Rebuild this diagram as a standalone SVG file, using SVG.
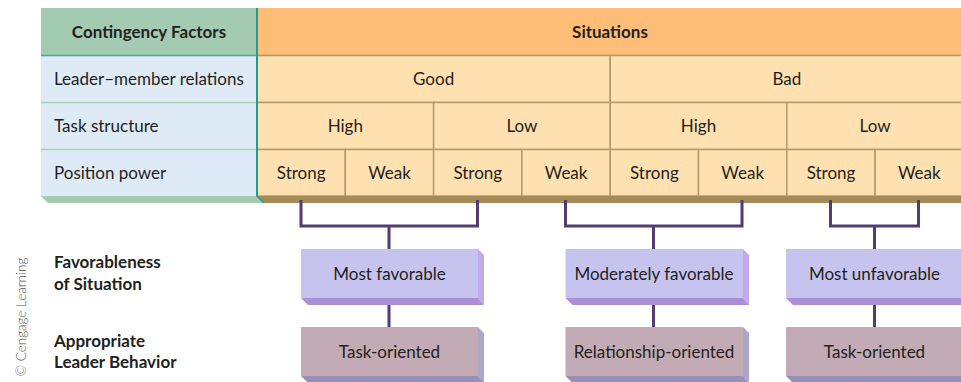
<svg xmlns="http://www.w3.org/2000/svg" width="961" height="382" viewBox="0 0 961 382">
<style>
text{font-family:Lato,"Open Sans",sans-serif;fill:#231f20;font-size:17px}
.c{text-anchor:middle}
.b{font-weight:bold}
.cell{fill:#ffe0b0;stroke:#b39b6c;stroke-width:1.5}
.lc{fill:#deeaf6}
.sep{stroke:#a8d3b9;stroke-width:1.5}
.conn{fill:none;stroke:#523c70;stroke-width:3}
.fav{fill:#c6c4ef}
.favs{fill:#c3a9e9}
.favb{fill:#ad8ed9}
.beh{fill:#c2abb4}
.behs{fill:#aca6c9}
.behb{fill:#9790b9}
</style>
<rect width="961" height="382" fill="#fff"/>
<g id="table">
<rect x="41" y="8" width="216" height="47.5" fill="#a3cbb1"/>
<rect x="41" y="55.5" width="216" height="140.5" class="lc"/>
<line x1="41" y1="55.5" x2="257" y2="55.5" stroke="#4aa9a2" stroke-width="1.5"/>
<line x1="41" y1="102.5" x2="257" y2="102.5" class="sep"/>
<line x1="41" y1="149.5" x2="257" y2="149.5" class="sep"/>
<polygon points="41,196 257,196 264,203 48,203" fill="#a3cbb1"/>
<rect x="257" y="8" width="706" height="47.5" fill="#ffbe78"/>
<line x1="257" y1="55.5" x2="961" y2="55.5" stroke="#b39b6c" stroke-width="1.5"/>
<rect x="257" y="55.5" width="353.2" height="47" class="cell"/>
<rect x="610.2" y="55.5" width="353.2" height="47" class="cell"/>
<rect x="257" y="102.5" width="176.6" height="47" class="cell"/>
<rect x="433.6" y="102.5" width="176.6" height="47" class="cell"/>
<rect x="610.2" y="102.5" width="176.6" height="47" class="cell"/>
<rect x="786.8" y="102.5" width="176.6" height="47" class="cell"/>
<rect x="257" y="149.5" width="88.3" height="46.5" class="cell"/>
<rect x="345.3" y="149.5" width="88.3" height="46.5" class="cell"/>
<rect x="433.6" y="149.5" width="88.3" height="46.5" class="cell"/>
<rect x="521.9" y="149.5" width="88.3" height="46.5" class="cell"/>
<rect x="610.2" y="149.5" width="88.3" height="46.5" class="cell"/>
<rect x="698.5" y="149.5" width="88.3" height="46.5" class="cell"/>
<rect x="786.8" y="149.5" width="88.3" height="46.5" class="cell"/>
<rect x="875.1" y="149.5" width="88.3" height="46.5" class="cell"/>
<polygon points="257,196 961,196 961,203 264,203" fill="#a58b58"/>
<line x1="257" y1="8" x2="257" y2="196" stroke="#1e9c9a" stroke-width="2"/>
<line x1="257" y1="196" x2="264" y2="203" stroke="#1e9c9a" stroke-width="1.5"/>
<text x="149" y="38" class="c b">Contingency Factors</text>
<text x="610" y="38" class="c b">Situations</text>
<text x="54" y="85">Leader–member relations</text>
<text x="54" y="132">Task structure</text>
<text x="54" y="179">Position power</text>
<text x="433.6" y="85" class="c">Good</text>
<text x="786.8" y="85" class="c">Bad</text>
<text x="345.3" y="132" class="c">High</text>
<text x="521.9" y="132" class="c">Low</text>
<text x="698.5" y="132" class="c">High</text>
<text x="875.1" y="132" class="c">Low</text>
<text x="301.2" y="179" class="c">Strong</text>
<text x="389.5" y="179" class="c">Weak</text>
<text x="477.8" y="179" class="c">Strong</text>
<text x="566.1" y="179" class="c">Weak</text>
<text x="654.4" y="179" class="c">Strong</text>
<text x="742.7" y="179" class="c">Weak</text>
<text x="831" y="179" class="c">Strong</text>
<text x="919.3" y="179" class="c">Weak</text>
</g>
<g id="connectors">
<path class="conn" d="M301,200V226H477.5V200M389,226V249"/>
<path class="conn" d="M565.5,200V226H742V200M653.5,226V249"/>
<path class="conn" d="M830.5,200V226H918.5V200M874.5,226V249"/>
<path class="conn" d="M389,305V327M653.5,305V327M874.5,305V327"/>
</g>
<g id="labels">
<text x="54" y="268" class="b">Favorableness</text>
<text x="54" y="290" class="b">of Situation</text>
<text x="54" y="347" class="b">Appropriate</text>
<text x="54" y="368" class="b">Leader Behavior</text>
<text transform="translate(25.5,317) rotate(-90)" class="c" style="font-size:13.5px;fill:#555;font-weight:300">© Cengage Learning</text>
</g>
<g id="fav1">
<polygon class="favs" points="478,249 484,255 484,305 478,298"/>
<polygon class="favb" points="301,298 308,305 484,305 478,298"/>
<rect class="fav" x="301" y="249" width="177" height="49"/>
<text x="389.5" y="279.5" class="c">Most favorable</text>
</g>
<g id="fav2">
<polygon class="favs" points="743,249 749,255 749,305 743,298"/>
<polygon class="favb" points="565.5,298 572.5,305 749,305 743,298"/>
<rect class="fav" x="565.5" y="249" width="177.5" height="49"/>
<text x="654" y="279.5" class="c">Moderately favorable</text>
</g>
<g id="fav3">
<polygon class="favb" points="786,298 793,305 970,305 963,298"/>
<rect class="fav" x="786" y="249" width="177" height="49"/>
<text x="874.5" y="279.5" class="c">Most unfavorable</text>
</g>
<g id="beh1">
<polygon class="behs" points="478,327 484,333 484,383 478,376"/>
<polygon class="behb" points="301,376 308,383 484,383 478,376"/>
<rect class="beh" x="301" y="327" width="177" height="49"/>
<text x="389.5" y="357.5" class="c">Task-oriented</text>
</g>
<g id="beh2">
<polygon class="behs" points="743,327 749,333 749,383 743,376"/>
<polygon class="behb" points="565.5,376 572.5,383 749,383 743,376"/>
<rect class="beh" x="565.5" y="327" width="177.5" height="49"/>
<text x="654" y="357.5" class="c">Relationship-oriented</text>
</g>
<g id="beh3">
<polygon class="behb" points="786,376 793,383 970,383 963,376"/>
<rect class="beh" x="786" y="327" width="177" height="49"/>
<text x="874.5" y="357.5" class="c">Task-oriented</text>
</g>
</svg>
